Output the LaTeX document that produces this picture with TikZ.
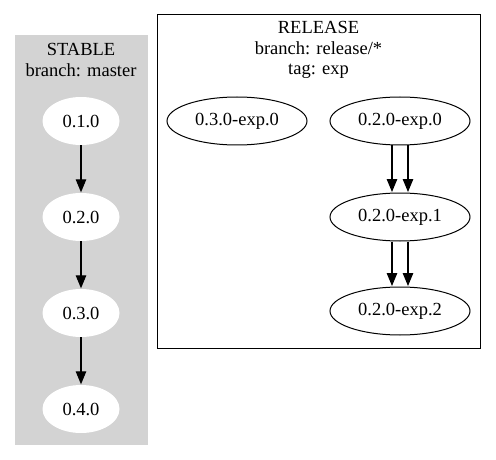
\documentclass[tikz,border=0pt]{standalone}
\usepackage{fontspec}
\setmainfont{Liberation Serif}
\usetikzlibrary{arrows.meta,shapes.geometric}
\definecolor{lightgrey}{HTML}{D3D3D3}
\tikzset{
  ver/.style={ellipse, minimum width=77pt, minimum height=48pt, inner sep=0pt, font=\fontsize{18.5}{20.5}\selectfont},
  stablever/.style={ver, fill=white},
  relver/.style={ver, draw=black, line width=1pt, minimum width=140pt},
  edge/.style={draw=black, line width=1.1pt, -{Triangle[length=13pt,width=10.5pt]}, shorten >=0.5pt},
  title/.style={align=center, font=\fontsize{18.5}{20.5}\selectfont, inner sep=0pt}
}
\begin{document}
\begin{tikzpicture}[x=1pt,y=-1pt]
\useasboundingbox (0,0) rectangle (496,460);
\fill[white] (0,0) rectangle (496,460);
% STABLE cluster
\filldraw[fill=lightgrey, draw=lightgrey] (15,35) rectangle (147,444);
\node[title] (stitle) at (81,60) {STABLE\\branch: master};
\node[stablever] (s1) at (81,121) {0.1.0};
\node[stablever] (s2) at (81,217) {0.2.0};
\node[stablever] (s3) at (81,313) {0.3.0};
\node[stablever] (s4) at (81,409) {0.4.0};
\draw[edge] (s1) -- (s2);
\draw[edge] (s2) -- (s3);
\draw[edge] (s3) -- (s4);
% RELEASE cluster
\draw[black, line width=1pt] (157,15) rectangle (480,348);
\node[title] (rtitle) at (318.5,50) {RELEASE\\branch: release/*\\tag: exp};
\node[relver] (r30) at (237,121) {0.3.0-exp.0};
\node[relver] (r0) at (400,121) {0.2.0-exp.0};
\node[relver] (r1) at (400,217) {0.2.0-exp.1};
\node[relver] (r2) at (400,311) {0.2.0-exp.2};
\draw[edge] ([xshift=-8pt]r0.south) -- ([xshift=-8pt]r1.north);
\draw[edge] ([xshift=8pt]r0.south) -- ([xshift=8pt]r1.north);
\draw[edge] ([xshift=-8pt]r1.south) -- ([xshift=-8pt]r2.north);
\draw[edge] ([xshift=8pt]r1.south) -- ([xshift=8pt]r2.north);
\end{tikzpicture}
\end{document}
